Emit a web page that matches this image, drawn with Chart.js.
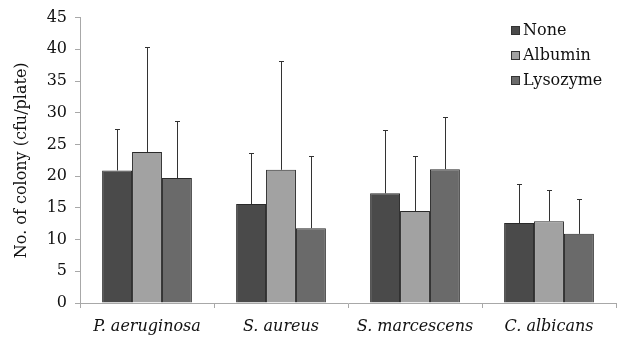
<!DOCTYPE html>
<html>
<head>
<meta charset="utf-8">
<script src="https://cdn.jsdelivr.net/npm/chart.js@4/dist/chart.umd.min.js"></script>
<style>
  html, body { margin: 0; padding: 0; background: #fff; }
  #wrap { width: 626px; height: 345px; }
</style>
</head>
<body>
<div id="wrap"><canvas id="chart1" width="626" height="345"></canvas></div>
<script>
const categories = ['P. aeruginosa', 'S. aureus', 'S. marcescens', 'C. albicans']
const seriesNames = ['None', 'Albumin', 'Lysozyme']
const noneVals = [20.9, 15.6, 17.3, 12.6]
const albuminVals = [23.8, 21.0, 14.5, 12.9]
const lysozymeVals = [19.7, 11.8, 21.1, 10.9]
// upper error (sd)
const noneErr = [6.6, 8.0, 10.0, 6.1]
const albuminErr = [16.5, 17.2, 8.6, 4.9]
const lysozymeErr = [9.0, 11.4, 8.2, 5.5]
const yTicks = [0, 5, 10, 15, 20, 25, 30, 35, 40, 45]

const fills = ['#4a4a4a', '#a2a2a2', '#6a6a6a']
const serifFont = "'DejaVu Serif', 'Liberation Serif', serif"

const errorBars = {
    id: 'errorBars',
    afterDatasetsDraw(chart) {
        const ctx = chart.ctx
        const y = chart.scales.y
        ctx.save()
        ctx.strokeStyle = '#333'
        ctx.lineWidth = 1
        chart.data.datasets.forEach((ds, i) => {
            const meta = chart.getDatasetMeta(i)
            meta.data.forEach((bar, j) => {
                const top = Math.round(y.getPixelForValue(ds.data[j] + ds.errors[j])) + 0.5
                const x = Math.round(bar.x) + 0.5
                ctx.beginPath()
                ctx.moveTo(x, bar.y)
                ctx.lineTo(x, top)
                ctx.moveTo(x - 2.5, top)
                ctx.lineTo(x + 2.5, top)
                ctx.stroke()
            })
        })
        ctx.restore()
    }
}

const sideLegend = {
    id: 'sideLegend',
    afterDraw(chart) {
        const ctx = chart.ctx
        ctx.save()
        ctx.font = '16px ' + serifFont
        ctx.textBaseline = 'middle'
        chart.data.datasets.forEach((ds, i) => {
            const yy = 31 + i * 25
            ctx.fillStyle = ds.backgroundColor
            ctx.fillRect(511, yy - 5, 9, 9)
            ctx.strokeStyle = '#333'
            ctx.lineWidth = 1
            ctx.strokeRect(511.5, yy - 4.5, 8, 8)
            ctx.fillStyle = '#111'
            ctx.fillText(ds.label, 523, yy)
        })
        ctx.restore()
    }
}

new Chart(document.getElementById('chart1'), {
    type: 'bar',
    data: {
        labels: categories,
        datasets: [
            { label: seriesNames[0], data: noneVals, errors: noneErr, backgroundColor: fills[0] },
            { label: seriesNames[1], data: albuminVals, errors: albuminErr, backgroundColor: fills[1] },
            { label: seriesNames[2], data: lysozymeVals, errors: lysozymeErr, backgroundColor: fills[2] }
        ]
    },
    options: {
        responsive: false,
        animation: false,
        datasets: {
            bar: {
                borderColor: '#2a2a2a',
                borderWidth: 1,
                categoryPercentage: 0.67,
                barPercentage: 1.0
            }
        },
        layout: { padding: { top: 12, right: 10, left: 0, bottom: 0 } },
        plugins: {
            legend: { display: false },
            tooltip: { enabled: false }
        },
        scales: {
            x: {
                afterFit(scale) { scale.height = 42 },
                border: { color: '#a8a8a8' },
                grid: { display: true, drawOnChartArea: false, offset: true, tickLength: 5, color: '#a8a8a8' },
                ticks: {
                    color: '#111',
                    padding: 9,
                    font: { family: serifFont, size: 16, style: 'italic' }
                }
            },
            y: {
                min: 0,
                max: 45,
                afterFit(scale) { scale.width = 80 },
                afterBuildTicks(scale) { scale.ticks = yTicks.map(v => ({ value: v })) },
                border: { color: '#a8a8a8' },
                grid: { display: true, drawOnChartArea: false, tickLength: 5, color: '#a8a8a8' },
                ticks: {
                    color: '#111',
                    padding: 8,
                    font: { family: serifFont, size: 16 }
                },
                title: {
                    display: true,
                    text: 'No. of colony (cfu/plate)',
                    color: '#111',
                    padding: { top: 12, bottom: 4 },
                    font: { family: serifFont, size: 16 }
                }
            }
        }
    },
    plugins: [errorBars, sideLegend]
})
</script>
</body>
</html>
